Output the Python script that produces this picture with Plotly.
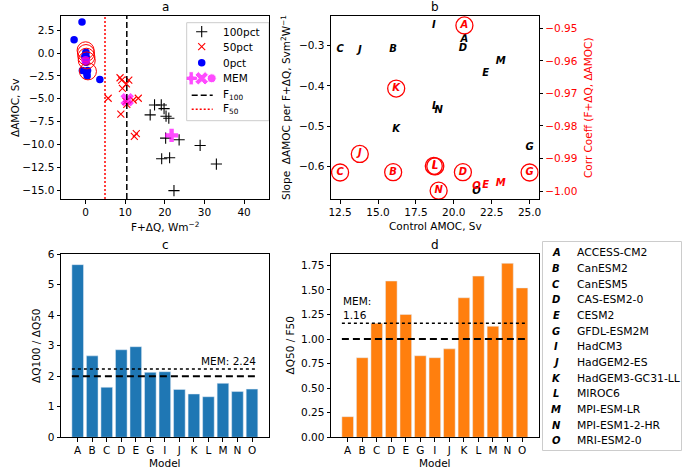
import plotly.graph_objects as go

# ---- data ----
models = ['A', 'B', 'C', 'D', 'E', 'G', 'I', 'J', 'K', 'L', 'M', 'N', 'O']
model_names = ['ACCESS-CM2', 'CanESM2', 'CanESM5', 'CAS-ESM2-0', 'CESM2', 'GFDL-ESM2M',
               'HadCM3', 'HadGEM2-ES', 'HadGEM3-GC31-LL', 'MIROC6', 'MPI-ESM-LR',
               'MPI-ESM1-2-HR', 'MRI-ESM2-0']

# panel a: F+dQ vs dAMOC for the three experiments
pct100_x = [17.4, 19.1, 19.8, 16.3, 20.3, 21.0, 20.2, 23.6, 28.9, 19.2, 21.2, 33.0, 22.3]
pct100_y = [-5.67, -5.67, -6.07, -6.76, -6.9, -7.12, -9.3, -9.48, -10.1, -11.55, -11.44, -12.13, -15.04]
pct50_x = [8.7, 9.1, 10.9, 10.3, 9.3, 5.7, 12.0, 13.3, 10.2, 8.9, 12.8, 12.3, 10.4]
pct50_y = [-2.7, -2.95, -2.95, -3.38, -3.85, -4.94, -5.13, -4.94, -5.27, -6.68, -8.8, -9.1, -5.6]
pct0_x = [-0.9, -2.9, 0.1, 0.0, 0.2, 0.1, -0.8, 0.5, 0.3, 0.4, 3.6, 0.0, -0.2]
pct0_y = [3.4, 1.45, 0.1, -0.2, -0.5, -1.0, -1.9, -1.9, -2.2, -2.5, -2.9, -0.1, -0.4]
ringed_x = [0.0, 0.1, 0.2, 0.3, 0.6]
ringed_y = [0.3, 0.0, -0.4, -0.8, -2.0]
mem_x = [21.7, 10.5, 0.0]
mem_y = [-9.0, -5.1, -0.8]
F100 = 10.4
F50 = 4.9

# panel b: control AMOC, slope and correlation per model
control_amoc = [20.7, 16.0, 12.5, 20.6, 22.1, 25.0, 18.68, 13.8, 16.2, 18.78, 23.1, 19.0, 21.5]
slope = [-0.284, -0.309, -0.309, -0.307, -0.369, -0.552, -0.249, -0.311, -0.507, -0.450, -0.338, -0.462, -0.662]
corr = [-0.9491, -0.9942, -0.9943, -0.9942, -0.9984, -0.9943, -0.9923, -0.9886, -0.9685, -0.9924, -0.9976, -0.9999, -0.9986]
corr_ringed = [True, True, True, True, False, True, True, True, True, True, False, True, False]

# panels c, d
ratio_q100_q50 = [5.66, 2.67, 1.64, 2.87, 2.97, 2.13, 2.15, 1.57, 1.42, 1.33, 1.77, 1.50, 1.58]
mem_c = 2.24
ratio_q50_f50 = [0.21, 0.81, 1.16, 1.59, 1.25, 0.83, 0.81, 0.90, 1.42, 1.64, 1.13, 1.77, 1.52]
mem_d = 1.16

FONT = 'DejaVu Sans'
W, H = 685, 468
FS = 10.5


def px_x(p):
    return p / W


def px_y(p):
    return 1 - p / H


def label(text, x, y, angle=0, color='black', size=FS, xanchor='center'):
    fig.add_annotation(x=px_x(x), y=px_y(y), xref='paper', yref='paper', text=text,
                       textangle=angle, showarrow=False, xanchor=xanchor, yanchor='middle',
                       font=dict(size=size, color=color))


fig = go.Figure()

# ---- panel a ----
fig.add_trace(go.Scatter(x=pct100_x, y=pct100_y, mode='markers',
                         marker=dict(symbol='cross-thin', size=8, line=dict(color='black', width=1.1)),
                         xaxis='x', yaxis='y'))
fig.add_trace(go.Scatter(x=pct50_x, y=pct50_y, mode='markers',
                         marker=dict(symbol='x-thin', size=7, line=dict(color='red', width=1.1)),
                         xaxis='x', yaxis='y'))
fig.add_trace(go.Scatter(x=pct0_x, y=pct0_y, mode='markers',
                         marker=dict(symbol='circle', size=7.5, color='blue'),
                         xaxis='x', yaxis='y'))
fig.add_trace(go.Scatter(x=ringed_x, y=ringed_y, mode='markers',
                         marker=dict(symbol='circle-open', size=17, color='red', line=dict(width=1)),
                         xaxis='x', yaxis='y'))
fig.add_trace(go.Scatter(x=mem_x, y=mem_y, mode='markers',
                         marker=dict(symbol=['cross', 'x', 'circle'], size=[11, 12, 9], color='#ff00ff',
                                     line=dict(width=0)),
                         xaxis='x', yaxis='y'))
fig.add_shape(type='line', x0=F100, x1=F100, y0=0, y1=1, xref='x', yref='y domain',
              line=dict(color='black', width=1.5, dash='6px,3px'))
fig.add_shape(type='line', x0=F50, x1=F50, y0=0, y1=1, xref='x', yref='y domain',
              line=dict(color='red', width=1.5, dash='2px,2px'))

# legend of panel a, drawn on a hidden helper axis measured in pixels
fig.add_shape(type='rect', x0=px_x(186.7), x1=px_x(269), y0=px_y(22.7), y1=px_y(120.7),
              xref='paper', yref='paper', line=dict(color='#cccccc', width=1),
              fillcolor='rgba(255,255,255,0.8)', layer='below')
leg_rows = [9, 24, 40, 55.6, 72.6, 86.6]
fig.add_trace(go.Scatter(x=[15], y=[leg_rows[0]], mode='markers', xaxis='x5', yaxis='y6',
                         marker=dict(symbol='cross-thin', size=8, line=dict(color='black', width=1.1))))
fig.add_trace(go.Scatter(x=[15], y=[leg_rows[1]], mode='markers', xaxis='x5', yaxis='y6',
                         marker=dict(symbol='x-thin', size=7, line=dict(color='red', width=1.1))))
fig.add_trace(go.Scatter(x=[15], y=[leg_rows[2]], mode='markers', xaxis='x5', yaxis='y6',
                         marker=dict(symbol='circle', size=7.5, color='blue')))
fig.add_trace(go.Scatter(x=[4.5, 15, 25], y=[leg_rows[3]] * 3, mode='markers', xaxis='x5', yaxis='y6',
                         marker=dict(symbol=['cross', 'x', 'circle'], size=[11, 12, 9], color='#ff00ff')))
fig.add_trace(go.Scatter(x=[5, 26], y=[leg_rows[4]] * 2, mode='lines', xaxis='x5', yaxis='y6',
                         line=dict(color='black', width=1.5, dash='6px,3px')))
fig.add_trace(go.Scatter(x=[5, 26], y=[leg_rows[5]] * 2, mode='lines', xaxis='x5', yaxis='y6',
                         line=dict(color='red', width=1.5, dash='2px,2px')))
for txt, r in zip(['100pct', '50pct', '0pct', 'MEM', 'F<sub>100</sub>', 'F<sub>50</sub>'], leg_rows):
    label(txt, 220.5, 22.7 + r, xanchor='left')

# ---- panel b ----
fig.add_trace(go.Scatter(x=control_amoc, y=slope, mode='text', text=models,
                         textfont=dict(family=FONT, size=10, color='black', weight='bold', style='italic'),
                         xaxis='x2', yaxis='y2'))
rx = [c for c, r in zip(control_amoc, corr_ringed) if r]
ry = [c for c, r in zip(corr, corr_ringed) if r]
rt = [m for m, r in zip(models, corr_ringed) if r]
fig.add_trace(go.Scatter(x=rx, y=ry, mode='markers+text', text=rt, textposition='middle center',
                         marker=dict(symbol='circle-open', size=17, color='red', line=dict(width=1.3)),
                         textfont=dict(family=FONT, size=10, color='red', weight='bold', style='italic'),
                         xaxis='x2', yaxis='y3'))
nx = [c for c, r in zip(control_amoc, corr_ringed) if not r]
ny = [c for c, r in zip(corr, corr_ringed) if not r]
nt = [m for m, r in zip(models, corr_ringed) if not r]
fig.add_trace(go.Scatter(x=nx, y=ny, mode='text', text=nt,
                         textfont=dict(family=FONT, size=10, color='red', weight='bold', style='italic'),
                         xaxis='x2', yaxis='y3'))

# ---- panel c, d ----
fig.add_trace(go.Bar(x=models, y=ratio_q100_q50, marker_color='#1f77b4', xaxis='x3', yaxis='y4'))
fig.add_trace(go.Bar(x=models, y=ratio_q50_f50, marker_color='#ff7f0e', xaxis='x4', yaxis='y5'))
for xr, yr, mem, ref in [('x3', 'y4', mem_c, 2), ('x4', 'y5', mem_d, 1)]:
    fig.add_shape(type='line', x0=-0.4, x1=12.4, y0=mem, y1=mem, xref=xr, yref=yr,
                  line=dict(color='black', width=1.5, dash='dot'))
    fig.add_shape(type='line', x0=-0.4, x1=12.4, y0=ref, y1=ref, xref=xr, yref=yr,
                  line=dict(color='black', width=2, dash='7px,4px'))

fig.add_annotation(x=12.4, y=mem_c, xref='x3', yref='y4', text='MEM: %.2f' % mem_c,
                   xanchor='right', yanchor='bottom', showarrow=False, font=dict(size=FS))
fig.add_annotation(x=-0.45, y=mem_d, xref='x4', yref='y5', text='MEM:<br>%.2f' % mem_d,
                   xanchor='left', yanchor='bottom', showarrow=False, align='left', font=dict(size=FS))

# panel titles and axis titles
for lab, cx, cy in [('a', 165, 7), ('b', 435, 7), ('c', 165, 244.5), ('d', 435, 244.5)]:
    label(lab, cx, cy, size=12)
label('F+ΔQ, Wm<sup>−2</sup>', 165, 226)
label('ΔAMOC, Sv', 15.5, 107.5, angle=-90)
label('Control AMOC, Sv', 435, 226)
label('Slope\u00a0\u00a0ΔAMOC per F+ΔQ, Svm<sup>2</sup>W<sup>−1</sup>', 285.5, 107.5, angle=-90)
label('Corr Coeff (F+ΔQ, ΔAMOC)', 588.5, 107.5, angle=-90, color='red')
label('ΔQ100 / ΔQ50', 36, 346, angle=-90)
label('Model', 165, 462.5)
label('ΔQ50 / F50', 289.5, 346, angle=-90)
label('Model', 435, 462.5)

# model key
fig.add_shape(type='rect', x0=px_x(542.5), x1=px_x(681.5), y0=px_y(241.5), y1=px_y(450.5),
              xref='paper', yref='paper', line=dict(color='#cccccc', width=1), fillcolor='white')
for i, (m, nm) in enumerate(zip(models, model_names)):
    yy = 252.7 + i * 15.67
    label('<b><i>%s</i></b>' % m, 556, yy, size=10)
    label(nm, 575, yy, size=10.8, xanchor='left')

ax = dict(showline=True, mirror=True, linecolor='black', linewidth=1, ticks='outside',
          ticklen=3.5, tickcolor='black', showgrid=False, zeroline=False, automargin=False,
          tickfont=dict(size=FS))
hidden = dict(visible=False, showgrid=False, zeroline=False, automargin=False)

dom_top = [px_y(199), px_y(16)]
dom_bot = [px_y(437.3), px_y(254.3)]
dom_l = [px_x(61), px_x(268.7)]
dom_r = [px_x(331), px_x(538.7)]

fig.update_layout(
    width=W, height=H, margin=dict(l=0, r=0, t=0, b=0),
    paper_bgcolor='white', plot_bgcolor='rgba(0,0,0,0)',
    font=dict(family=FONT, size=FS, color='black'),
    bargap=0.2, showlegend=False,
    xaxis=dict(ax, domain=dom_l, anchor='y', range=[-6.2, 46.2], tickvals=[0, 10, 20, 30, 40]),
    yaxis=dict(ax, domain=dom_top, anchor='x', range=[-15.95, 4.05], dtick=2.5, tickformat='.1f'),
    xaxis2=dict(ax, domain=dom_r, anchor='y2', range=[11.9, 25.6], dtick=2.5, tickformat='.1f'),
    yaxis2=dict(ax, domain=dom_top, anchor='x2', range=[-0.681, -0.226], dtick=0.1, tickformat='.1f'),
    yaxis3=dict(ax, domain=dom_top, anchor='x2', overlaying='y2', side='right', mirror=False,
                range=[-1.00245, -0.9462], dtick=0.01, tickformat='.2f',
                tickfont=dict(size=FS, color='red')),
    xaxis3=dict(ax, domain=dom_l, anchor='y4', range=[-1.15, 13.15]),
    yaxis4=dict(ax, domain=dom_bot, anchor='x3', range=[0, 6], dtick=1),
    xaxis4=dict(ax, domain=dom_r, anchor='y5', range=[-1.15, 13.15]),
    yaxis5=dict(ax, domain=dom_bot, anchor='x4', range=[0, 1.862], dtick=0.25, tickformat='.2f'),
    xaxis5=dict(hidden, domain=[px_x(186.7), px_x(269)], anchor='y6', range=[0, 82.3]),
    yaxis6=dict(hidden, domain=[px_y(120.7), px_y(22.7)], anchor='x5', range=[98, 0]),
)

# drop the browser's default page margin so the figure sits at the window corner
fig.write_html('out.html', config={'displayModeBar': False},
               post_script="document.body.style.margin='0px';document.body.style.overflow='hidden';")
